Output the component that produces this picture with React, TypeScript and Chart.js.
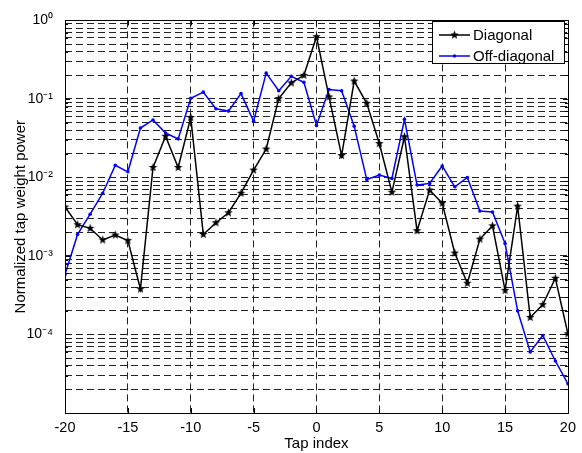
import React, { useEffect, useRef } from "react";
import { Chart, registerables } from "chart.js";
Chart.register(...registerables);

const taps = [-20,-19,-18,-17,-16,-15,-14,-13,-12,-11,-10,-9,-8,-7,-6,-5,-4,-3,-2,-1,0,1,2,3,4,5,6,7,8,9,10,11,12,13,14,15,16,17,18,19,20];
const diagonal = [4.2e-3,2.5e-3,2.25e-3,1.6e-3,1.85e-3,1.57e-3,3.8e-4,1.34e-2,3.35e-2,1.34e-2,5.8e-2,1.88e-3,2.65e-3,3.55e-3,6.3e-3,1.24e-2,2.3e-2,0.101,0.16,0.2,0.62,0.106,1.9e-2,0.169,8.8e-2,2.7e-2,6.5e-3,3.3e-2,2.1e-3,6.9e-3,4.7e-3,1.09e-3,4.5e-4,1.64e-3,2.42e-3,3.65e-4,4.3e-3,1.65e-4,2.4e-4,5.2e-4,1.02e-4];
const offDiagonal = [5.8e-4,1.88e-3,3.4e-3,6.3e-3,1.43e-2,1.18e-2,4.26e-2,5.4e-2,3.68e-2,3.1e-2,0.102,0.122,7.5e-2,7.0e-2,0.117,5.2e-2,0.213,0.127,0.194,0.163,4.6e-2,0.132,0.127,4.5e-2,9.4e-3,1.07e-2,9.7e-3,5.5e-2,8.0e-3,8.4e-3,1.4e-2,7.6e-3,1.0e-2,3.73e-3,3.63e-3,1.44e-3,2.0e-4,6.0e-5,9.7e-5,4.6e-5,2.35e-5];
const xTicks = [-20,-15,-10,-5,0,5,10,15,20];
const yExponents = [-5,-4,-3,-2,-1,0];
const seriesNames = ["Diagonal", "Off-diagonal"];

const SUP: Record<string, string> = { "-": "\u207B", "0": "\u2070", "1": "\u00B9", "2": "\u00B2", "3": "\u00B3", "4": "\u2074", "5": "\u2075" };
const FONT = "'Liberation Sans', Arial, sans-serif";

function makeStar(r: number, color: string) {
  const c = document.createElement("canvas");
  const s = Math.ceil(r * 2 + 2);
  c.width = s; c.height = s;
  const ctx = c.getContext("2d")!;
  ctx.fillStyle = color;
  ctx.beginPath();
  for (let i = 0; i < 10; i++) {
    const rad = i % 2 === 0 ? r : r * 0.42;
    const a = -Math.PI / 2 + (i * Math.PI) / 5;
    const x = s / 2 + rad * Math.cos(a);
    const y = s / 2 + rad * Math.sin(a);
    if (i === 0) ctx.moveTo(x, y); else ctx.lineTo(x, y);
  }
  ctx.closePath();
  ctx.fill();
  return c;
}

export default function App() {
  const ref = useRef<HTMLCanvasElement>(null);
  useEffect(() => {
    const star = makeStar(4.5, "#000");
    const yTickVals: number[] = [];
    for (let e = yExponents[0]; e < yExponents[yExponents.length - 1]; e++) {
      for (let m = 1; m <= 9; m++) yTickVals.push(m * Math.pow(10, e));
    }
    yTickVals.push(1);

    const framePlugin = {
      id: "frame",
      afterDatasetsDraw(chart: any) {
        const { ctx, chartArea: a, scales } = chart;
        ctx.save();
        ctx.strokeStyle = "#000";
        ctx.lineWidth = 1;
        ctx.setLineDash([]);
        ctx.strokeRect(Math.round(a.left) + 0.5, Math.round(a.top) + 0.5, Math.round(a.right - a.left), Math.round(a.bottom - a.top));
        ctx.beginPath();
        xTicks.forEach((t) => {
          const x = Math.round(scales.x.getPixelForValue(t)) + 0.5;
          ctx.moveTo(x, a.bottom); ctx.lineTo(x, a.bottom - 5);
          ctx.moveTo(x, a.top); ctx.lineTo(x, a.top + 5);
        });
        yTickVals.forEach((v) => {
          const e = Math.round(Math.log10(v));
          const major = Math.abs(v / Math.pow(10, e) - 1) < 1e-6;
          const len = major ? 5 : 3;
          const y = Math.round(scales.y.getPixelForValue(v)) + 0.5;
          ctx.moveTo(a.left, y); ctx.lineTo(a.left + len, y);
          ctx.moveTo(a.right, y); ctx.lineTo(a.right - len, y);
        });
        ctx.stroke();
        ctx.restore();
      },
      afterDraw(chart: any) {
        const { ctx } = chart;
        ctx.save();
        const bx = 432.5, by = 21.5, bw = 132, bh = 42;
        ctx.fillStyle = "#fff";
        ctx.fillRect(bx, by, bw, bh);
        ctx.strokeStyle = "#000";
        ctx.lineWidth = 1;
        ctx.setLineDash([]);
        ctx.strokeRect(bx, by, bw, bh);
        const rows = [
          { y: 35, color: "#000", star: true },
          { y: 56, color: "#0000ff", star: false },
        ];
        ctx.font = `15px ${FONT}`;
        ctx.textBaseline = "middle";
        rows.forEach((r, i) => {
          ctx.strokeStyle = r.color;
          ctx.lineWidth = 1.5;
          ctx.beginPath();
          ctx.moveTo(439, r.y); ctx.lineTo(470, r.y);
          ctx.stroke();
          if (r.star) {
            ctx.drawImage(star, 454.5 - star.width / 2, r.y - star.height / 2);
          } else {
            ctx.fillStyle = r.color;
            ctx.beginPath();
            ctx.arc(454.5, r.y, 1.7, 0, Math.PI * 2);
            ctx.fill();
          }
          ctx.fillStyle = "#000";
          ctx.textAlign = "left";
          ctx.fillText(seriesNames[i], 473, r.y + 1);
        });
        ctx.restore();
      },
    };

    const chart = new Chart(ref.current!, {
      type: "line",
      data: {
        labels: taps,
        datasets: [
          {
            label: seriesNames[0],
            data: taps.map((t, i) => ({ x: t, y: diagonal[i] })),
            borderColor: "#000",
            backgroundColor: "#000",
            borderWidth: 1.5,
            pointStyle: star as any,
            pointRadius: 4,
            tension: 0,
          },
          {
            label: seriesNames[1],
            data: taps.map((t, i) => ({ x: t, y: offDiagonal[i] })),
            borderColor: "#0000ff",
            backgroundColor: "#0000ff",
            borderWidth: 1.5,
            pointStyle: "circle",
            pointRadius: 1.8,
            pointBorderWidth: 0,
            tension: 0,
          },
        ],
      },
      options: {
        animation: false,
        responsive: false,
        maintainAspectRatio: false,
        layout: { padding: { left: 0, right: 14, top: 16, bottom: 0 } },
        plugins: { legend: { display: false }, tooltip: { enabled: false } },
        scales: {
          x: {
            type: "linear",
            min: -20,
            max: 20,
            afterBuildTicks: (s: any) => { s.ticks = xTicks.map((v) => ({ value: v })); },
            afterFit: (s: any) => { s.height = 40; },
            ticks: {
              font: { family: FONT, size: 14.5 },
              color: "#000",
              padding: 6,
              maxRotation: 0,
              autoSkip: false,
              callback: (v: any) => String(v),
            },
            grid: {
              drawTicks: false,
              color: (c: any) => (c.tick && (c.tick.value === -20 || c.tick.value === 20) ? "rgba(0,0,0,0)" : "#222"),
              lineWidth: 1,
            },
            border: { display: false, dash: [7, 4] },
            title: {
              display: true,
              text: "Tap index",
              font: { family: FONT, size: 15 },
              color: "#000",
              padding: { top: 0, bottom: 0 },
            },
          },
          y: {
            type: "logarithmic",
            min: 1e-5,
            max: 1,
            afterBuildTicks: (s: any) => { s.ticks = yTickVals.map((v) => ({ value: v })); },
            afterFit: (s: any) => { s.width = 65; },
            ticks: {
              font: { family: FONT, size: 14 },
              color: "#000",
              padding: 12,
              autoSkip: false,
              callback: (v: any) => {
                const val = Number(v);
                const e = Math.round(Math.log10(val));
                if (Math.abs(val / Math.pow(10, e) - 1) > 1e-6) return "";
                if (e === yExponents[0]) return "";
                return "10" + String(e).split("").map((ch) => SUP[ch]).join("");
              },
            },
            grid: {
              drawTicks: false,
              color: "#222",
              lineWidth: 1,
            },
            border: { display: false, dash: [7, 4] },
            title: {
              display: true,
              text: "Normalized tap weight power",
              font: { family: FONT, size: 15 },
              color: "#000",
              padding: { top: 12, bottom: 0 },
            },
          },
        },
      },
      plugins: [framePlugin],
    } as any);
    return () => chart.destroy();
  }, []);
  return (
    <div style={{ position: "fixed", left: 0, top: 0, width: 582, height: 453, background: "#fff" }}>
      <canvas ref={ref} width={582} height={453} style={{ width: 582, height: 453 }} />
    </div>
  );
}
